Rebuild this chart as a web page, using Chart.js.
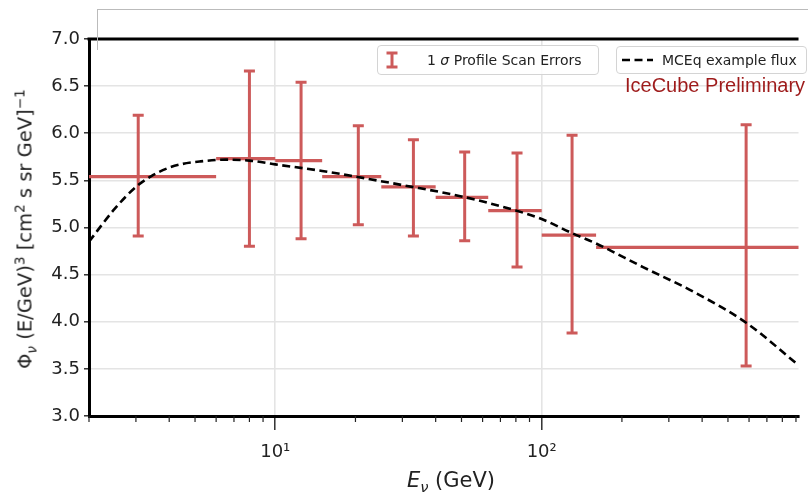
<!DOCTYPE html>
<html>
<head>
<meta charset="utf-8">
<title>IceCube flux unfolding</title>
<script src="https://cdn.jsdelivr.net/npm/chart.js@4.4.1/dist/chart.umd.min.js"></script>
<style>
  body { margin: 0; background: #fff; }
  #wrap { position: relative; width: 808px; height: 495px; overflow: hidden; font-family: "DejaVu Sans", sans-serif; color: #222; }
  canvas { position: absolute; left: 0; top: 0; }
  .frame { position: absolute; left: 97px; top: 9px; width: 800px; height: 40px; border-left: 1px solid #bbb; border-top: 1px solid #bbb; }
  .ytitle { position: absolute; left: 25px; top: 229px; transform: translate(-50%, -50%) rotate(-90deg); white-space: nowrap; font-size: 19.5px; }
  .xtitle { position: absolute; left: 451px; top: 480px; transform: translate(-50%, -50%); white-space: nowrap; font-size: 21px; }
  sub, sup { font-size: 70%; line-height: 0; }
  .legend { position: absolute; background: rgba(255,255,255,0.85); border: 1px solid #d4d4d4; border-radius: 4px; font-size: 14px; white-space: nowrap; }
  .legend svg { position: absolute; }
  .legend span { position: absolute; top: 50%; transform: translateY(-50%); }
  .label { position: absolute; left: 625px; top: 74px; font-family: "Liberation Sans", Arial, sans-serif; font-size: 20px; color: #9e1b1b; white-space: nowrap; }
</style>
</head>
<body>
<div id="wrap">
  <canvas id="chart" width="808" height="495"></canvas>
  <div class="frame"></div>
  <div class="ytitle">Φ<sub><i>ν</i></sub> (E/GeV)<sup>3</sup> [cm<sup>2</sup> s sr GeV]<sup>−1</sup></div>
  <div class="xtitle"><i>E</i><sub><i>ν</i></sub> (GeV)</div>
  <div class="legend" style="left:377px;top:45px;width:220px;height:28px;">
    <svg width="30" height="28" style="left:4px;top:0">
      <line x1="10" y1="7" x2="10" y2="21" stroke="rgb(205,90,90)" stroke-width="3"/>
      <line x1="4.5" y1="7" x2="15.5" y2="7" stroke="rgb(205,90,90)" stroke-width="3"/>
      <line x1="4.5" y1="21" x2="15.5" y2="21" stroke="rgb(205,90,90)" stroke-width="3"/>
    </svg>
    <span style="left:49px">1 <i>σ</i> Profile Scan Errors</span>
  </div>
  <div class="legend" style="left:616px;top:46px;width:189px;height:26px;">
    <svg width="40" height="26" style="left:3px;top:0">
      <line x1="2" y1="13" x2="33" y2="13" stroke="#000" stroke-width="2.6" stroke-dasharray="8 4.5"/>
    </svg>
    <span style="left:45px">MCEq example flux</span>
  </div>
  <div class="label">IceCube Preliminary</div>
</div>
<script>
// unfolded flux: bin edges, bin centre, value and 1 sigma band
const binLo   = [1.5, 6.0, 10, 15, 25, 40, 63, 100, 160];
const binHi   = [6.0, 10, 15, 25, 40, 63, 100, 160, 2140];
const centers = [3.06, 8.0, 12.5, 20.5, 33, 51.4, 80.8, 130, 585];
const values  = [5.54, 5.73, 5.71, 5.54, 5.43, 5.32, 5.18, 4.92, 4.79];
const upper   = [6.19, 6.66, 6.54, 6.08, 5.93, 5.80, 5.79, 5.98, 6.09];
const lower   = [4.91, 4.80, 4.88, 5.03, 4.91, 4.86, 4.58, 3.88, 3.53];

// MCEq example flux curve
const fluxE   = [2, 2.5, 3, 3.5, 4, 4.5, 5.2, 6.5, 8, 10, 15, 20, 30, 50, 80, 100, 130, 160, 240, 370, 585, 920];
const fluxVal = [4.85, 5.20, 5.43, 5.56, 5.635, 5.675, 5.70, 5.72, 5.71, 5.67, 5.60, 5.54, 5.45, 5.33, 5.18, 5.09, 4.94, 4.83, 4.58, 4.32, 3.99, 3.54];

const majorX = [10, 100];
const xLabels = ['10¹', '10²'];

const red = 'rgb(205,90,90)';

const hData = [], vData = [];
for (let i = 0; i < values.length; i++) {
  hData.push({x: binLo[i], y: values[i]}, {x: binHi[i], y: values[i]}, {x: binHi[i], y: null});
  vData.push({x: centers[i], y: lower[i]}, {x: centers[i], y: upper[i]}, {x: centers[i], y: null});
}

const xTicks = [];
for (let d = 1; d <= 100; d *= 10) {
  for (let m = 1; m <= 9; m++) {
    const v = m * d;
    if (v >= 2 && v <= 900) xTicks.push(v);
  }
}

const decor = {
  id: 'decor',
  afterDraw(chart) {
    const ctx = chart.ctx, a = chart.chartArea, xs = chart.scales.x;
    ctx.save();
    // top spine
    ctx.strokeStyle = '#000';
    ctx.lineWidth = 3;
    ctx.beginPath();
    ctx.moveTo(a.left - 1.5, a.top);
    ctx.lineTo(a.right, a.top);
    ctx.stroke();
    // minor ticks
    ctx.lineWidth = 1.2;
    ctx.strokeStyle = '#222';
    xTicks.forEach(v => {
      if (majorX.includes(v)) return;
      const px = xs.getPixelForValue(v);
      ctx.beginPath();
      ctx.moveTo(px, a.bottom);
      ctx.lineTo(px, a.bottom + 6);
      ctx.stroke();
    });
    ctx.restore();
  }
};

new Chart(document.getElementById('chart'), {
  type: 'line',
  data: {
    datasets: [
      {
        label: 'MCEq example flux',
        data: fluxE.map((e, i) => ({x: e, y: fluxVal[i]})),
        borderColor: '#000',
        borderWidth: 2.6,
        borderDash: [8, 4.5],
        pointRadius: 0,
        cubicInterpolationMode: 'monotone'
      },
      {
        label: 'bins',
        data: hData,
        borderColor: red,
        borderWidth: 3.2,
        pointRadius: 0,
        spanGaps: false
      },
      {
        label: '1 σ Profile Scan Errors',
        data: vData,
        borderColor: red,
        borderWidth: 3,
        pointStyle: 'line',
        pointRadius: 5.5,
        pointHoverRadius: 5.5,
        pointBorderWidth: 3,
        pointBorderColor: red,
        spanGaps: false
      }
    ]
  },
  options: {
    responsive: false,
    animation: false,
    events: [],
    layout: { padding: { top: 39, left: 0, right: 0, bottom: 0 } },
    plugins: { legend: { display: false }, tooltip: { enabled: false } },
    scales: {
      x: {
        type: 'logarithmic',
        min: 2,
        max: 920,
        afterFit(s) { s.height = 79; },
        afterBuildTicks(s) { s.ticks = xTicks.map(v => ({value: v})); },
        border: { color: '#000', width: 3 },
        grid: {
          color: c => majorX.includes(c.tick && c.tick.value) ? '#e4e4e4' : 'transparent',
          lineWidth: 1.6,
          tickLength: 14,
          tickColor: c => majorX.includes(c.tick && c.tick.value) ? '#222' : 'transparent',
          tickWidth: 1.4
        },
        ticks: {
          autoSkip: false,
          maxRotation: 0,
          padding: 12,
          color: '#222',
          font: { family: 'DejaVu Sans', size: 18 },
          callback: v => { const k = majorX.indexOf(v); return k >= 0 ? xLabels[k] : ''; }
        }
      },
      y: {
        min: 3,
        max: 7,
        afterFit(s) { s.width = 89; },
        border: { color: '#000', width: 3 },
        grid: { color: '#e4e4e4', lineWidth: 1.6, tickLength: 5, tickColor: '#222', tickWidth: 1.4 },
        ticks: {
          stepSize: 0.5,
          padding: 4,
          color: '#222',
          font: { family: 'DejaVu Sans', size: 18 },
          callback: v => v.toFixed(1)
        }
      }
    }
  },
  plugins: [decor]
});
</script>
</body>
</html>
